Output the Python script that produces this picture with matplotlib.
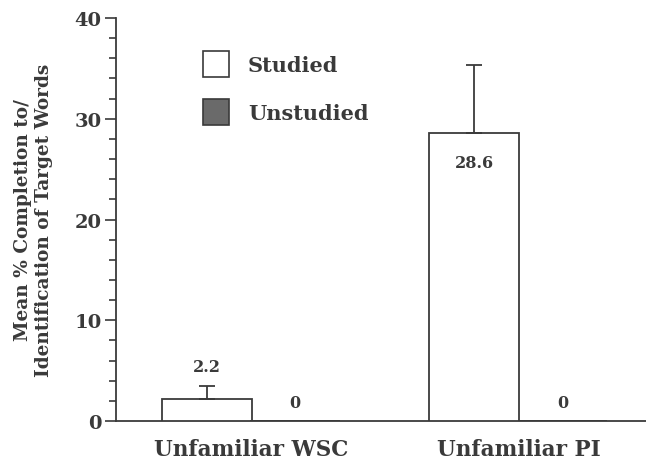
import numpy as np
import matplotlib
matplotlib.use('Agg')
import matplotlib.pyplot as plt
from matplotlib.patches import Patch
from matplotlib.ticker import MultipleLocator

categories = ['Unfamiliar WSC', 'Unfamiliar PI']
studied = [2.2, 28.6]
studied_err = [1.3, 6.7]
unstudied = [0, 0]
studied_labels = ['2.2', '28.6']
unstudied_labels = ['0', '0']

plt.rcParams.update({
    'font.family': 'DejaVu Serif',
    'font.weight': 'bold',
    'axes.labelweight': 'bold',
})

INK = '#3a3a3a'
GREY = '#6a6a6a'
fig = plt.figure(figsize=(6.46, 4.64), dpi=100)
ax = fig.add_axes([0.1796, 0.0905, 0.8204, 0.8685])

x = np.arange(len(categories))
w = 0.336
off = 0.165

ax.bar(x - off, studied, w, color='white', edgecolor=INK, linewidth=1.3, zorder=3)
ax.bar(x + off, unstudied, w, color=GREY, edgecolor=INK, linewidth=1.3, zorder=3)
ax.errorbar(x - off, studied, yerr=[[0] * len(studied), studied_err], fmt='none',
            ecolor=INK, elinewidth=1.3, capsize=6, capthick=1.3, zorder=4)

# value labels
ax.text(x[0] - off, studied[0] + studied_err[0] + 1.1, studied_labels[0],
        ha='center', va='bottom', fontsize=11.5, color=INK)
ax.text(x[1] - off, studied[1] - 2.9, studied_labels[1],
        ha='center', va='center', fontsize=11.5, color=INK)
for xi, v, lab in zip(x, unstudied, unstudied_labels):
    ax.text(xi + off, v + 1.8, lab, ha='center', va='center', fontsize=11.5, color=INK)

ax.set_xlim(-0.505, 1.477)
ax.set_ylim(0, 40)
ax.yaxis.set_major_locator(MultipleLocator(10))
ax.yaxis.set_minor_locator(MultipleLocator(2))
ax.tick_params(axis='y', which='major', direction='out', length=8, width=1.2,
               colors=INK, labelsize=14, pad=2.5)
ax.tick_params(axis='y', which='minor', direction='out', length=5, width=1.2, colors=INK)
ax.set_xticks(x)
ax.set_xticklabels(categories, fontsize=15.5, color=INK)
ax.tick_params(axis='x', length=0, pad=12.5)

for s in ['top', 'right']:
    ax.spines[s].set_visible(False)
for s in ['left', 'bottom']:
    ax.spines[s].set_color(INK)
    ax.spines[s].set_linewidth(1.3)

fig.text(33.5 / 646, 1 - 220 / 464,
         'Mean % Completion to/\nIdentification of Target Words',
         rotation=90, ha='center', va='center', fontsize=13.3, color=INK,
         linespacing=1.15)

handles = [Patch(facecolor='white', edgecolor=INK, linewidth=1.2, label='Studied'),
           Patch(facecolor=GREY, edgecolor=INK, linewidth=1.2, label='Unstudied')]
leg = ax.legend(handles=handles, loc='upper left',
                bbox_to_anchor=(203 / 646, 1 - 52 / 464), bbox_transform=fig.transFigure,
                frameon=False, fontsize=15, handlelength=1.25, handleheight=1.54,
                labelspacing=1.05, handletextpad=0.9, borderpad=0, borderaxespad=0)
for t in leg.get_texts():
    t.set_color(INK)

fig.savefig('out.png', dpi=100)
